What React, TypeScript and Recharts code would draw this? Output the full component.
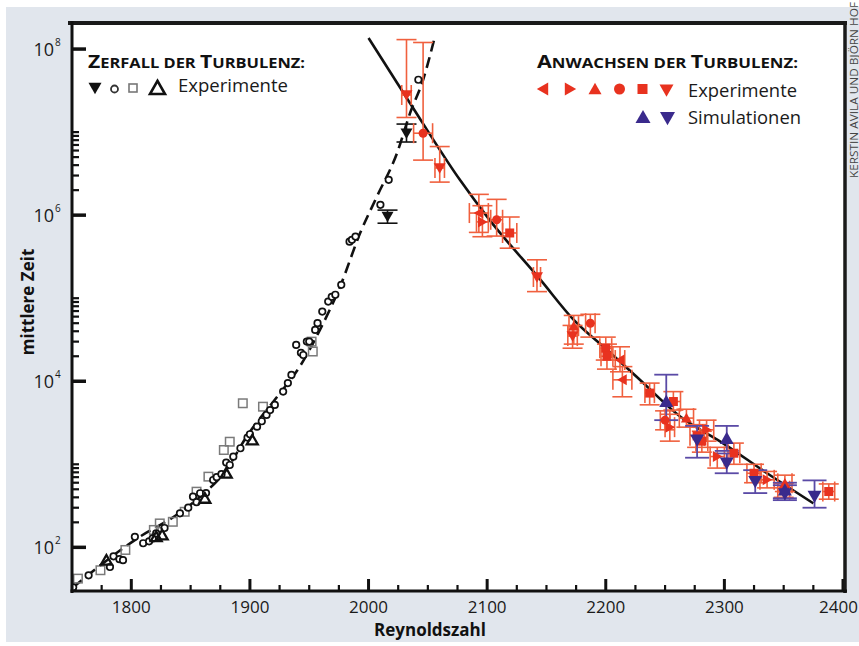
import React from 'react';
import { ComposedChart, Scatter, Line, XAxis, YAxis, ErrorBar } from 'recharts';

const W = 859;
const H = 646;
const PL = 72;
const PR = 843;
const PT = 23;
const PB = 591;

const FONT = '"Open Sans", "Noto Sans", sans-serif';
const RED = '#e8321f';
const RED_ERR = '#f0603e';
const BLUE = '#3a2a8c';
const BLUE_ERR = '#5a4aa6';

// ---------- tick values ----------
const xTickValues = [1750, 1775, 1800, 1825, 1850, 1875, 1900, 1925, 1950, 1975, 2000, 2025, 2050, 2075, 2100, 2125, 2150, 2175, 2200, 2225, 2250, 2275, 2300, 2325, 2350, 2375, 2400];
const xTickLabels = [1800, 1900, 2000, 2100, 2200, 2300, 2400];
const yTickValues = [100, 200, 300, 400, 500, 600, 700, 800, 900, 1000, 1e4, 2e4, 3e4, 4e4, 5e4, 6e4, 7e4, 8e4, 9e4, 1e5, 1e6, 2e6, 3e6, 4e6, 5e6, 6e6, 7e6, 8e6, 9e6, 1e7, 1e8];
const yTickMajor = [100, 1e4, 1e6, 1e8];

// ---------- fitted curves ----------
const decayFitRe = [1751, 1776, 1805, 1838, 1858, 1880, 1897, 1923, 1942, 1959, 1976, 1993, 2007, 2024, 2035, 2046, 2056];
const decayFitTau = [33, 64, 128, 245, 407, 853, 2130, 6520, 15000, 41500, 138000, 612000, 1.67e6, 5.58e6, 1.69e7, 4.27e7, 1.42e8];
const growthFitRe = [2000, 2035, 2077, 2102, 2145, 2173, 2201, 2226, 2263, 2299, 2336, 2375];
const growthFitTau = [1.36e8, 2.23e7, 2.66e6, 8.77e5, 1.66e5, 54800, 23900, 11350, 3740, 1790, 780, 339];

// ---------- decay (Zerfall) experiments ----------
const decayCircleRe = [1751, 1764, 1782, 1785, 1790, 1793, 1803, 1810, 1815, 1818, 1821, 1828, 1841, 1848, 1852, 1855, 1858, 1863, 1869, 1872, 1876, 1880, 1883, 1886, 1892, 1898, 1900, 1906, 1910, 1914, 1917, 1921, 1928, 1932, 1935, 1939, 1943, 1945, 1948, 1950, 1955, 1957, 1961, 1966, 1969, 1972, 1977, 1984, 1986, 1989, 2010, 2017, 2042];
const decayCircleTau = [33, 46, 58, 78, 72, 70, 134, 112, 118, 128, 147, 171, 257, 300, 407, 350, 448, 450, 647, 700, 760, 1050, 980, 1236, 1560, 2100, 2300, 2840, 3300, 3930, 4500, 5180, 7500, 9500, 11900, 27400, 22000, 20700, 30000, 30000, 41500, 50000, 69000, 91000, 104000, 110000, 145000, 480000, 504000, 552000, 1.33e6, 2.66e6, 4.27e7];
const decaySquareRe = [1755, 1774, 1795, 1819, 1824, 1835, 1845, 1855, 1865, 1878, 1883, 1894, 1911, 1952, 1953];
const decaySquareTau = [42, 53, 93, 162, 194, 203, 268, 468, 710, 1486, 1870, 5430, 4940, 30000, 22800];
const decayTriRe = [1779, 1821, 1826, 1862, 1880, 1902];
const decayTriTau = [70, 134, 141, 389, 780, 1960];
const decayFilledRe = [2016, 2032];
const decayFilledTau = [9.6e5, 9.7e6];
const decayFilledLo = [8.0e5, 7.6e6];
const decayFilledHi = [1.15e6, 1.25e7];

// ---------- growth (Anwachsen) experiments ----------
const gDownRe = [2032, 2060, 2142, 2172];
const gDownTau = [2.8e7, 3.7e6, 1.8e5, 3.5e4];
const gDownLo = [1.5e7, 2.5e6, 1.2e5, 2.5e4];
const gDownHi = [1.3e8, 6.7e6, 2.9e5, 4.7e4];
const gDownXe = [4, 4, 3, 4];

const gCircleRe = [2046, 2108, 2187, 2250];
const gCircleTau = [9.7e6, 8.8e5, 5.0e4, 3.4e3];
const gCircleLo = [4.6e6, 5.6e5, 3.4e4, 2.6e3];
const gCircleHi = [1.2e8, 1.55e6, 6.4e4, 4.4e3];
const gCircleXe = [8, 5, 4, 4];

const gSquareRe = [2119, 2200, 2201, 2237, 2257, 2277, 2281, 2308, 2325, 2350, 2388];
const gSquareTau = [6.1e5, 2.5e4, 2.0e4, 7.2e3, 5.7e3, 2.2e3, 1.9e3, 1.36e3, 780, 480, 470];
const gSquareLo = [4.0e5, 1.8e4, 1.4e4, 5.2e3, 4.5e3, 1.6e3, 1.4e3, 1.0e3, 600, 400, 380];
const gSquareHi = [9.5e5, 3.4e4, 2.8e4, 9.5e3, 7.5e3, 3.0e3, 2.5e3, 1.8e3, 1000, 590, 580];
const gSquareXe = [6, 5, 5, 4, 6, 6, 5, 5, 6, 5, 5];

const gLeftRe = [2093, 2212, 2214];
const gLeftTau = [1.06e6, 1.8e4, 1.04e4];
const gLeftLo = [6.2e5, 1.3e4, 6.5e3];
const gLeftHi = [1.78e6, 2.6e4, 1.5e4];
const gLeftXe = [8, 4, 8];

const gRightRe = [2096, 2254, 2285, 2294, 2336];
const gRightTau = [8.3e5, 2.8e3, 2.6e3, 1.24e3, 650];
const gRightLo = [5.5e5, 1.9e3, 1.9e3, 900, 520];
const gRightHi = [1.3e6, 4.0e3, 3.4e3, 1.6e3, 820];
const gRightXe = [5, 4, 6, 6, 6];

const gUpRe = [2173, 2268, 2351];
const gUpTau = [4.6e4, 3.6e3, 590];
const gUpLo = [2.8e4, 2.8e3, 470];
const gUpHi = [6.2e4, 4.6e3, 740];
const gUpXe = [4, 6, 6];

// ---------- growth simulations ----------
const sUpRe = [2251, 2302, 2351];
const sUpTau = [5.7e3, 2.05e3, 490];
const sUpLo = [3.4e3, 1.45e3, 390];
const sUpHi = [1.2e4, 2.9e3, 600];

const sDownRe = [2277, 2302, 2326, 2351, 2376];
const sDownTau = [1.96e3, 1.03e3, 620, 440, 410];
const sDownLo = [1.2e3, 780, 450, 370, 300];
const sDownHi = [2.9e3, 1.35e3, 850, 560, 640];

type Pt = { x: number; y: number; ey?: [number, number]; ex?: number };

function pts(re: number[], tau: number[], lo?: number[], hi?: number[], xe?: number[]): Pt[] {
  return re.map((x, i) => ({
    x,
    y: tau[i],
    ey: lo && hi ? [tau[i] - lo[i], hi[i] - tau[i]] as [number, number] : undefined,
    ex: xe ? xe[i] : undefined,
  }));
}

const decayFit = pts(decayFitRe, decayFitTau);
const growthFit = pts(growthFitRe, growthFitTau);

type Kind = 'circle' | 'square' | 'up' | 'down' | 'left' | 'right';

function Marker(props: { kind: Kind; cx: number; cy: number; s: number; fill: string; stroke?: string; sw?: number }) {
  const { kind, cx, cy, s, fill, stroke = 'none', sw = 0 } = props;
  if (cx == null || cy == null || isNaN(cx) || isNaN(cy)) return <g />;
  const h = s / 2;
  const common = { fill, stroke, strokeWidth: sw, strokeLinejoin: 'miter' as const };
  switch (kind) {
    case 'circle':
      return <circle cx={cx} cy={cy} r={h} {...common} />;
    case 'square':
      return <rect x={cx - h} y={cy - h} width={s} height={s} {...common} />;
    case 'up':
      return <polygon points={`${cx - h},${cy + h * 0.8} ${cx + h},${cy + h * 0.8} ${cx},${cy - h * 0.95}`} {...common} />;
    case 'down':
      return <polygon points={`${cx - h},${cy - h * 0.8} ${cx + h},${cy - h * 0.8} ${cx},${cy + h * 0.95}`} {...common} />;
    case 'left':
      return <polygon points={`${cx + h * 0.8},${cy - h} ${cx + h * 0.8},${cy + h} ${cx - h * 0.95},${cy}`} {...common} />;
    case 'right':
      return <polygon points={`${cx - h * 0.8},${cy - h} ${cx - h * 0.8},${cy + h} ${cx + h * 0.95},${cy}`} {...common} />;
  }
  return <g />;
}

function shapeOf(kind: Kind, s: number, fill: string, stroke?: string, sw?: number) {
  return (p: any) => <Marker kind={kind} cx={p.cx} cy={p.cy} s={s} fill={fill} stroke={stroke} sw={sw} />;
}

function XTick(props: any) {
  const { x, payload } = props;
  const v = payload.value as number;
  const major = v % 100 === 0;
  const last = v === 2400;
  return (
    <g>
      <line x1={x} x2={x} y1={PB} y2={PB - (major ? 12 : 6)} stroke="#111" strokeWidth={major ? 3 : 2.2} />
      {xTickLabels.includes(v) && (
        <text x={last ? 858 : x} y={613} textAnchor={last ? 'end' : 'middle'} fontFamily={FONT} fontSize={17} fill="#1a1a1a">
          {v}
        </text>
      )}
    </g>
  );
}

function YTick(props: any) {
  const { y, payload } = props;
  const v = payload.value as number;
  const major = yTickMajor.includes(v);
  const exp = Math.round(Math.log10(v));
  return (
    <g>
      <line x1={PL} x2={PL + (major ? 14 : 7)} y1={y} y2={y} stroke="#111" strokeWidth={major ? 3.5 : 2.2} />
      {major && (
        <g>
          <text x={54} y={y + 7} textAnchor="end" fontFamily={FONT} fontSize={18} fill="#1a1a1a">10</text>
          <text x={55} y={y - 3} textAnchor="start" fontFamily={FONT} fontSize={10} fill="#1a1a1a">{exp}</text>
        </g>
      )}
    </g>
  );
}

function redSeries(kind: Kind, re: number[], tau: number[], lo: number[], hi: number[], xe: number[], s: number, name: string) {
  return (
    <Scatter key={name} name={name} data={pts(re, tau, lo, hi, xe)} dataKey="y" isAnimationActive={false} shape={shapeOf(kind, s, RED)}>
      <ErrorBar dataKey="ey" direction="y" width={10} stroke={RED_ERR} strokeWidth={1.6} isAnimationActive={false} />
      <ErrorBar dataKey="ex" direction="x" width={10} stroke={RED_ERR} strokeWidth={1.6} isAnimationActive={false} />
    </Scatter>
  );
}

function SmallCaps(props: { x: number; y: number; parts: [string, string][]; width: number }) {
  return (
    <text x={props.x} y={props.y} fontFamily={FONT} fontWeight={700} fill="#111" textLength={props.width} lengthAdjust="spacingAndGlyphs">
      {props.parts.map(([big, small], i) => (
        <React.Fragment key={i}>
          <tspan fontSize={18}>{big}</tspan>
          <tspan fontSize={14}>{small}</tspan>
        </React.Fragment>
      ))}
    </text>
  );
}

export default function App() {
  return (
    <div style={{ position: 'absolute', left: 0, top: 0, width: W, height: H, background: '#fff' }}>
      <svg width={W} height={H} style={{ position: 'absolute', left: 0, top: 0 }}>
        <rect x={6} y={7} width={W - 6} height={635} fill="#e1e6ed" />
        <rect x={PL} y={PT} width={845 - PL} height={PB - PT} fill="#ffffff" />
      </svg>
      <div style={{ position: 'absolute', left: 0, top: 0 }}>
        <ComposedChart width={W} height={H} margin={{ top: PT, right: W - PR, bottom: H - PB - 30, left: PL - 60 }}>
          <XAxis
            dataKey="x"
            type="number"
            domain={[1750, 2400]}
            ticks={xTickValues}
            interval={0}
            allowDataOverflow
            axisLine={false}
            tickLine={false}
            tick={<XTick />}
            height={30}
          />
          <YAxis
            dataKey="y"
            type="number"
            scale="log"
            domain={[29.8, 2.06e8]}
            ticks={yTickValues}
            interval={0}
            allowDataOverflow
            axisLine={false}
            tickLine={false}
            tick={<YTick />}
            width={60}
          />
          <Line data={decayFit} dataKey="y" type="monotone" stroke="#111" strokeWidth={2.6} strokeDasharray="11 6" dot={false} isAnimationActive={false} />
          <Line data={growthFit} dataKey="y" type="monotone" stroke="#111" strokeWidth={2.6} dot={false} isAnimationActive={false} />

          <Scatter name="decaySquares" data={pts(decaySquareRe, decaySquareTau)} dataKey="y" isAnimationActive={false} shape={shapeOf('square', 8.5, 'none', '#7a7a7a', 1.5)} />
          <Scatter name="decayCircles" data={pts(decayCircleRe, decayCircleTau)} dataKey="y" isAnimationActive={false} shape={shapeOf('circle', 6.5, '#fff', '#111', 1.7)} />
          <Scatter name="decayTriangles" data={pts(decayTriRe, decayTriTau)} dataKey="y" isAnimationActive={false} shape={shapeOf('up', 11, 'none', '#111', 2.3)} />
          <Scatter name="decayFilled" data={pts(decayFilledRe, decayFilledTau, decayFilledLo, decayFilledHi)} dataKey="y" isAnimationActive={false} shape={shapeOf('down', 12, '#111')}>
            <ErrorBar dataKey="ey" direction="y" width={10} stroke="#111" strokeWidth={1.6} isAnimationActive={false} />
          </Scatter>

          {redSeries('down', gDownRe, gDownTau, gDownLo, gDownHi, gDownXe, 12, 'gDown')}
          {redSeries('circle', gCircleRe, gCircleTau, gCircleLo, gCircleHi, gCircleXe, 9, 'gCircle')}
          {redSeries('square', gSquareRe, gSquareTau, gSquareLo, gSquareHi, gSquareXe, 9, 'gSquare')}
          {redSeries('left', gLeftRe, gLeftTau, gLeftLo, gLeftHi, gLeftXe, 11, 'gLeft')}
          {redSeries('right', gRightRe, gRightTau, gRightLo, gRightHi, gRightXe, 11, 'gRight')}
          {redSeries('up', gUpRe, gUpTau, gUpLo, gUpHi, gUpXe, 11, 'gUp')}

          <Scatter name="simUp" data={pts(sUpRe, sUpTau, sUpLo, sUpHi)} dataKey="y" isAnimationActive={false} shape={shapeOf('up', 14, BLUE)}>
            <ErrorBar dataKey="ey" direction="y" width={12} stroke={BLUE_ERR} strokeWidth={1.8} isAnimationActive={false} />
          </Scatter>
          <Scatter name="simDown" data={pts(sDownRe, sDownTau, sDownLo, sDownHi)} dataKey="y" isAnimationActive={false} shape={shapeOf('down', 14, BLUE)}>
            <ErrorBar dataKey="ey" direction="y" width={12} stroke={BLUE_ERR} strokeWidth={1.8} isAnimationActive={false} />
          </Scatter>
        </ComposedChart>
      </div>
      <svg width={W} height={H} style={{ position: 'absolute', left: 0, top: 0, pointerEvents: 'none' }}>
        {/* frame */}
        <line x1={68} x2={847} y1={23} y2={23} stroke="#1a1a1a" strokeWidth={4} />
        <line x1={845} x2={845} y1={21} y2={593} stroke="#1a1a1a" strokeWidth={3.5} />
        <line x1={PL} x2={PL} y1={21} y2={593} stroke="#111" strokeWidth={3} />
        <line x1={PL - 1.5} x2={847} y1={PB} y2={PB} stroke="#111" strokeWidth={3} />

        {/* axis titles */}
        <text transform="translate(34,302) rotate(-90)" textAnchor="middle" fontFamily={FONT} fontWeight={700} fontSize={17} fill="#111">
          mittlere Zeit
        </text>
        <text x={430} y={636} textAnchor="middle" fontFamily={FONT} fontWeight={700} fontSize={17} fill="#111">
          Reynoldszahl
        </text>

        {/* left legend */}
        <SmallCaps x={88} y={68} width={217} parts={[['Z', 'ERFALL DER '], ['T', 'URBULENZ:']]} />
        <Marker kind="down" cx={95} cy={88} s={13} fill="#111" />
        <Marker kind="circle" cx={114.5} cy={89} s={7} fill="#fff" stroke="#333" sw={1.8} />
        <Marker kind="square" cx={133} cy={88} s={8} fill="#fff" stroke="#777" sw={1.6} />
        <Marker kind="up" cx={157.5} cy={88} s={15} fill="none" stroke="#111" sw={2.6} />
        <text x={178} y={92} fontFamily={FONT} fontSize={18} fill="#1a1a1a" textLength={110} lengthAdjust="spacingAndGlyphs">
          Experimente
        </text>

        {/* right legend */}
        <SmallCaps x={537} y={68} width={261} parts={[['A', 'NWACHSEN DER '], ['T', 'URBULENZ:']]} />
        <Marker kind="left" cx={543} cy={89} s={13} fill={RED} />
        <Marker kind="right" cx={570} cy={89} s={13} fill={RED} />
        <Marker kind="up" cx={595} cy={89} s={13} fill={RED} />
        <Marker kind="circle" cx={619.5} cy={89} s={11} fill={RED} />
        <Marker kind="square" cx={642.5} cy={89} s={10} fill={RED} />
        <Marker kind="down" cx={666.5} cy={90} s={14} fill={RED} />
        <text x={688} y={97} fontFamily={FONT} fontSize={18} fill="#1a1a1a" textLength={109} lengthAdjust="spacingAndGlyphs">
          Experimente
        </text>
        <Marker kind="up" cx={643} cy={117} s={15} fill={BLUE} />
        <Marker kind="down" cx={667.5} cy={118} s={15} fill={BLUE} />
        <text x={688} y={124} fontFamily={FONT} fontSize={18} fill="#1a1a1a" textLength={113} lengthAdjust="spacingAndGlyphs">
          Simulationen
        </text>

        {/* credit */}
        <text transform="translate(857.5,178) rotate(-90)" fontFamily={FONT} fontSize={10.5} fill="#444" textLength={176} lengthAdjust="spacingAndGlyphs">
          KERSTIN AVILA UND BJÖRN HOF
        </text>
      </svg>
    </div>
  );
}
